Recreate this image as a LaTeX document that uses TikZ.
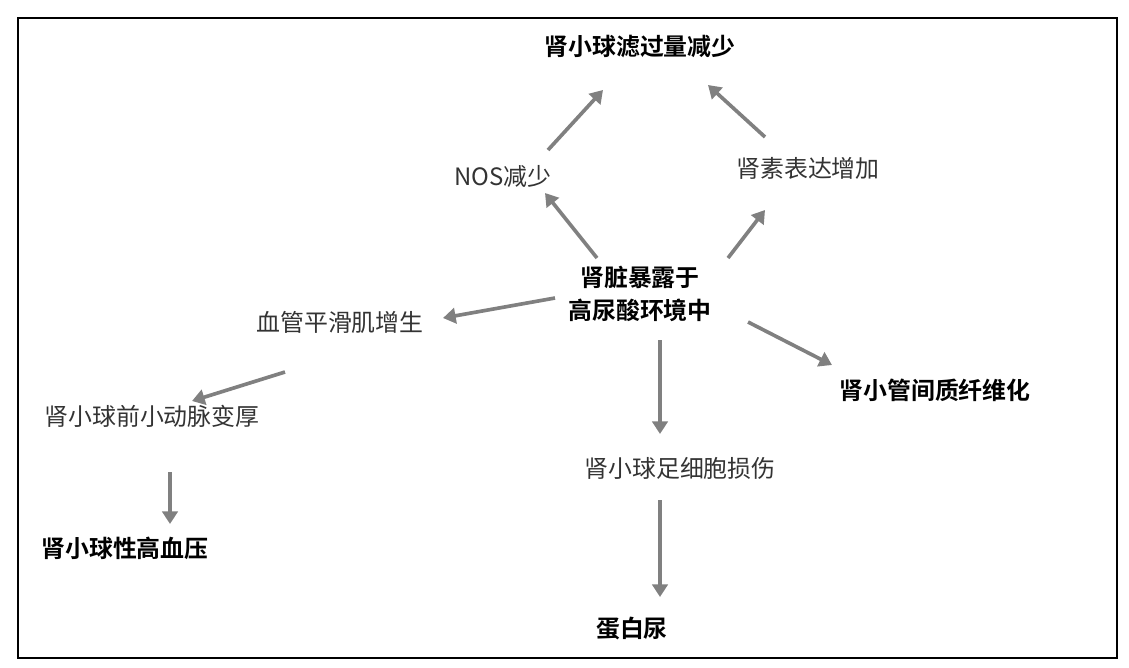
\documentclass[tikz,border=0pt]{standalone}
\usepackage{fontspec}
\setmainfont{Noto Sans CJK SC}
\newfontfamily\cjk{Noto Sans CJK SC}[BoldFont={Noto Sans CJK SC Bold}]
\usetikzlibrary{arrows.meta}
\tikzset{
  lbl/.style={font=\cjk\fontsize{17}{23}\selectfont, text=black!80, inner sep=1pt},
  lblb/.style={font=\cjk\bfseries\fontsize{17}{23}\selectfont, text=black, inner sep=1pt, align=center},
  arr/.style={line width=2.6pt, draw=black!50, -{Triangle[length=9pt,width=11pt]}}
}
\begin{document}
\begin{tikzpicture}[x=0.025cm, y=-0.025cm]
        \useasboundingbox (0,0) rectangle (1129,667);
        \draw[line width=0.8pt] (18,18) rectangle (1117,658);
        % nodes
        \node[lblb] (gfr)      at (640,47)  {肾小球滤过量减少};
        \node[lbl]  (nos)      at (503,176) {NOS减少};
        \node[lbl]  (renin)    at (808,168) {肾素表达增加};
        \node[lblb] (uric)     at (640,294) {肾脏暴露于\\高尿酸环境中};
        \node[lbl]  (smooth)   at (340,322) {血管平滑肌增生};
        \node[lblb] (fibro)    at (935,390) {肾小管间质纤维化};
        \node[lbl]  (arteriole) at (152,416) {肾小球前小动脉变厚};
        \node[lbl]  (podo)     at (680,468) {肾小球足细胞损伤};
        \node[lblb] (hyper)    at (125,548) {肾小球性高血压};
        \node[lblb] (protein)  at (632,628) {蛋白尿};
        % arrow ends
        \coordinate (a1) at (548,150); \coordinate (b1) at (603,90);
        \coordinate (a2) at (765,137); \coordinate (b2) at (708,85);
        \coordinate (a3) at (597,258); \coordinate (b3) at (545,193);
        \coordinate (a4) at (728,258); \coordinate (b4) at (765,210);
        \coordinate (a5) at (555,298); \coordinate (b5) at (443,318);
        \coordinate (a6) at (748,322); \coordinate (b6) at (832,365);
        \coordinate (a7) at (660,340); \coordinate (b7) at (660,434);
        \coordinate (a8) at (285,372); \coordinate (b8) at (192,401);
        \coordinate (a9) at (170,472); \coordinate (b9) at (170,524);
        \coordinate (a10) at (660,500); \coordinate (b10) at (660,597);
        \foreach \i in {1,...,10}
          \draw[arr] (a\i) -- (b\i);
\end{tikzpicture}
\end{document}
